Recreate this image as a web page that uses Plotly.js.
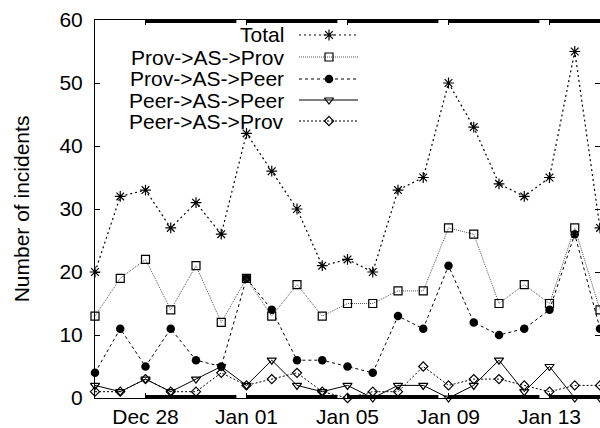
<!DOCTYPE html>
<html>
<head>
<meta charset="utf-8">
<script src="https://cdn.plot.ly/plotly-3.0.1.min.js"></script>
<style>html,body{margin:0;padding:0;background:#fff;}#chart{width:600px;height:428px;}</style>
</head>
<body>
<div id="chart"></div>
<script>
// ---- data ----
var dates = ['2008-12-26','2008-12-27','2008-12-28','2008-12-29','2008-12-30','2008-12-31',
             '2009-01-01','2009-01-02','2009-01-03','2009-01-04','2009-01-05','2009-01-06',
             '2009-01-07','2009-01-08','2009-01-09','2009-01-10','2009-01-11','2009-01-12',
             '2009-01-13','2009-01-14','2009-01-15'];
var total    = [20,32,33,27,31,26,42,36,30,21,22,20,33,35,50,43,34,32,35,55,27];
var provProv = [13,19,22,14,21,12,19,13,18,13,15,15,17,17,27,26,15,18,15,27,14];
var provPeer = [4,11,5,11,6,5,19,14,6,6,5,4,13,11,21,12,10,11,14,26,11];
var peerPeer = [2,1,3,1,3,5,2,6,2,1,2,0,2,2,0,2,6,1,5,0,0];
var peerProv = [1,1,3,1,1,4,2,3,4,1,0,1,1,5,2,3,3,2,1,2,2];
var seriesNames = ['Total','Prov->AS->Prov','Prov->AS->Peer','Peer->AS->Peer','Peer->AS->Prov'];
var xRange = ['2008-12-26','2009-01-15'];
var firstTick = '2008-12-28';
var yLabel = 'Number of incidents';

// ---- styles ----
var FONT = 'Liberation Sans, Arial, Helvetica, sans-serif';
var styles = [
  {line:{color:'#000', width:1.2, dash:'2px,3px'}, marker:{symbol:'asterisk-open', size:9, color:'#000', line:{color:'#000', width:1.2}}},
  {line:{color:'#555', width:1, dash:'1px,1px'}, marker:{symbol:'square-open', size:8, color:'#000', line:{color:'#000', width:1.2}}},
  {line:{color:'#000', width:1, dash:'3px,3px'}, marker:{symbol:'circle', size:8.5, color:'#000', line:{width:0}}},
  {line:{color:'#000', width:1, dash:'solid'}, marker:{symbol:'triangle-down-open', size:8, color:'#000', line:{color:'#000', width:1.2}}},
  {line:{color:'#000', width:1, dash:'2px,2px'}, marker:{symbol:'diamond-open', size:7, color:'#000', line:{color:'#000', width:1.2}}}
];
var values = [total, provProv, provPeer, peerPeer, peerProv];

// plot area in pixels
var W = 600, H = 428, L = 95, R = 0, T = 20, B = 30;
var pw = W - L - R, ph = H - T - B;
function px2x(p){ return (p - L) / pw; }
function py2y(p){ return (T + ph - p) / ph; }

var traces = [];
for (var i = values.length - 1; i >= 0; i--) {
  traces.push({
    type:'scatter', mode:'lines+markers', x:dates, y:values[i], name:seriesNames[i],
    line:styles[i].line, marker:styles[i].marker, cliponaxis:false, showlegend:false, hoverinfo:'skip'
  });
}

// custom legend (text left, sample right)
var legRows = [35, 57, 79, 100, 121];
var legTextX = 286, legL = 299, legM = 329, legR = 358;
var annotations = [];
for (var k = 0; k < seriesNames.length; k++) {
  var yy = py2y(legRows[k]);
  traces.push({type:'scatter', mode:'lines', xaxis:'x2', yaxis:'y2',
    x:[px2x(legL), px2x(legR)], y:[yy, yy], line:styles[k].line, showlegend:false, hoverinfo:'skip'});
  traces.push({type:'scatter', mode:'markers', xaxis:'x2', yaxis:'y2',
    x:[px2x(legM)], y:[yy], marker:styles[k].marker, showlegend:false, hoverinfo:'skip', cliponaxis:false});
  annotations.push({xref:'paper', yref:'paper', x:px2x(legTextX), y:yy, xanchor:'right', yanchor:'middle',
    text:seriesNames[k].replace(/>/g,'&gt;'), showarrow:false, font:{family:FONT, size:21, color:'#000'}});
}

// dense minor-tick bands along top and bottom borders
var DAY = 86400000;
function fmt(ms){ var s = new Date(ms).toISOString(); return s.slice(0,10) + ' ' + s.slice(11,19); }
var shapes = [];
var endMs = Date.parse(xRange[1]);
for (var t = Date.parse(firstTick); t < endMs; t += 4 * DAY) {
  var x0 = fmt(t + 0.02 * DAY), x1 = fmt(Math.min(t + 3.6 * DAY, endMs + DAY));
  shapes.push({type:'rect', xref:'x', yref:'paper', ysizemode:'pixel', yanchor:1, x0:x0, x1:x1, y0:-3, y1:0.5,
    fillcolor:'#000', line:{width:0}, layer:'above'});
  shapes.push({type:'rect', xref:'x', yref:'paper', ysizemode:'pixel', yanchor:0, x0:x0, x1:x1, y0:-0.5, y1:3,
    fillcolor:'#000', line:{width:0}, layer:'above'});
}

var layout = {
  width:W, height:H, margin:{l:L, r:R, t:T, b:B, pad:0},
  paper_bgcolor:'#fff', plot_bgcolor:'#fff',
  font:{family:FONT, size:21, color:'#000'},
  showlegend:false,
  xaxis:{type:'date', range:xRange, tick0:firstTick, dtick:4*DAY, tickformat:'%b %d',
    ticks:'inside', ticklen:5, tickcolor:'#000', tickwidth:1, showline:true, linecolor:'#000', linewidth:1,
    mirror:'ticks', showgrid:false, zeroline:false, tickfont:{family:FONT, size:21, color:'#000'}},
  yaxis:{range:[0,60], dtick:10, ticks:'inside', ticklen:5, tickcolor:'#000', tickwidth:1,
    showline:true, linecolor:'#000', linewidth:1, mirror:'ticks', showgrid:false, zeroline:false,
    ticklabelstandoff:7,
    tickfont:{family:FONT, size:21, color:'#000'},
    title:{text:yLabel, font:{family:FONT, size:21, color:'#000'}, standoff:24}},
  xaxis2:{overlaying:'x', range:[0,1], visible:false, fixedrange:true},
  yaxis2:{overlaying:'y', range:[0,1], visible:false, fixedrange:true},
  annotations:annotations,
  shapes:shapes
};

Plotly.newPlot('chart', traces, layout, {displayModeBar:false, staticPlot:true});
</script>
</body>
</html>
